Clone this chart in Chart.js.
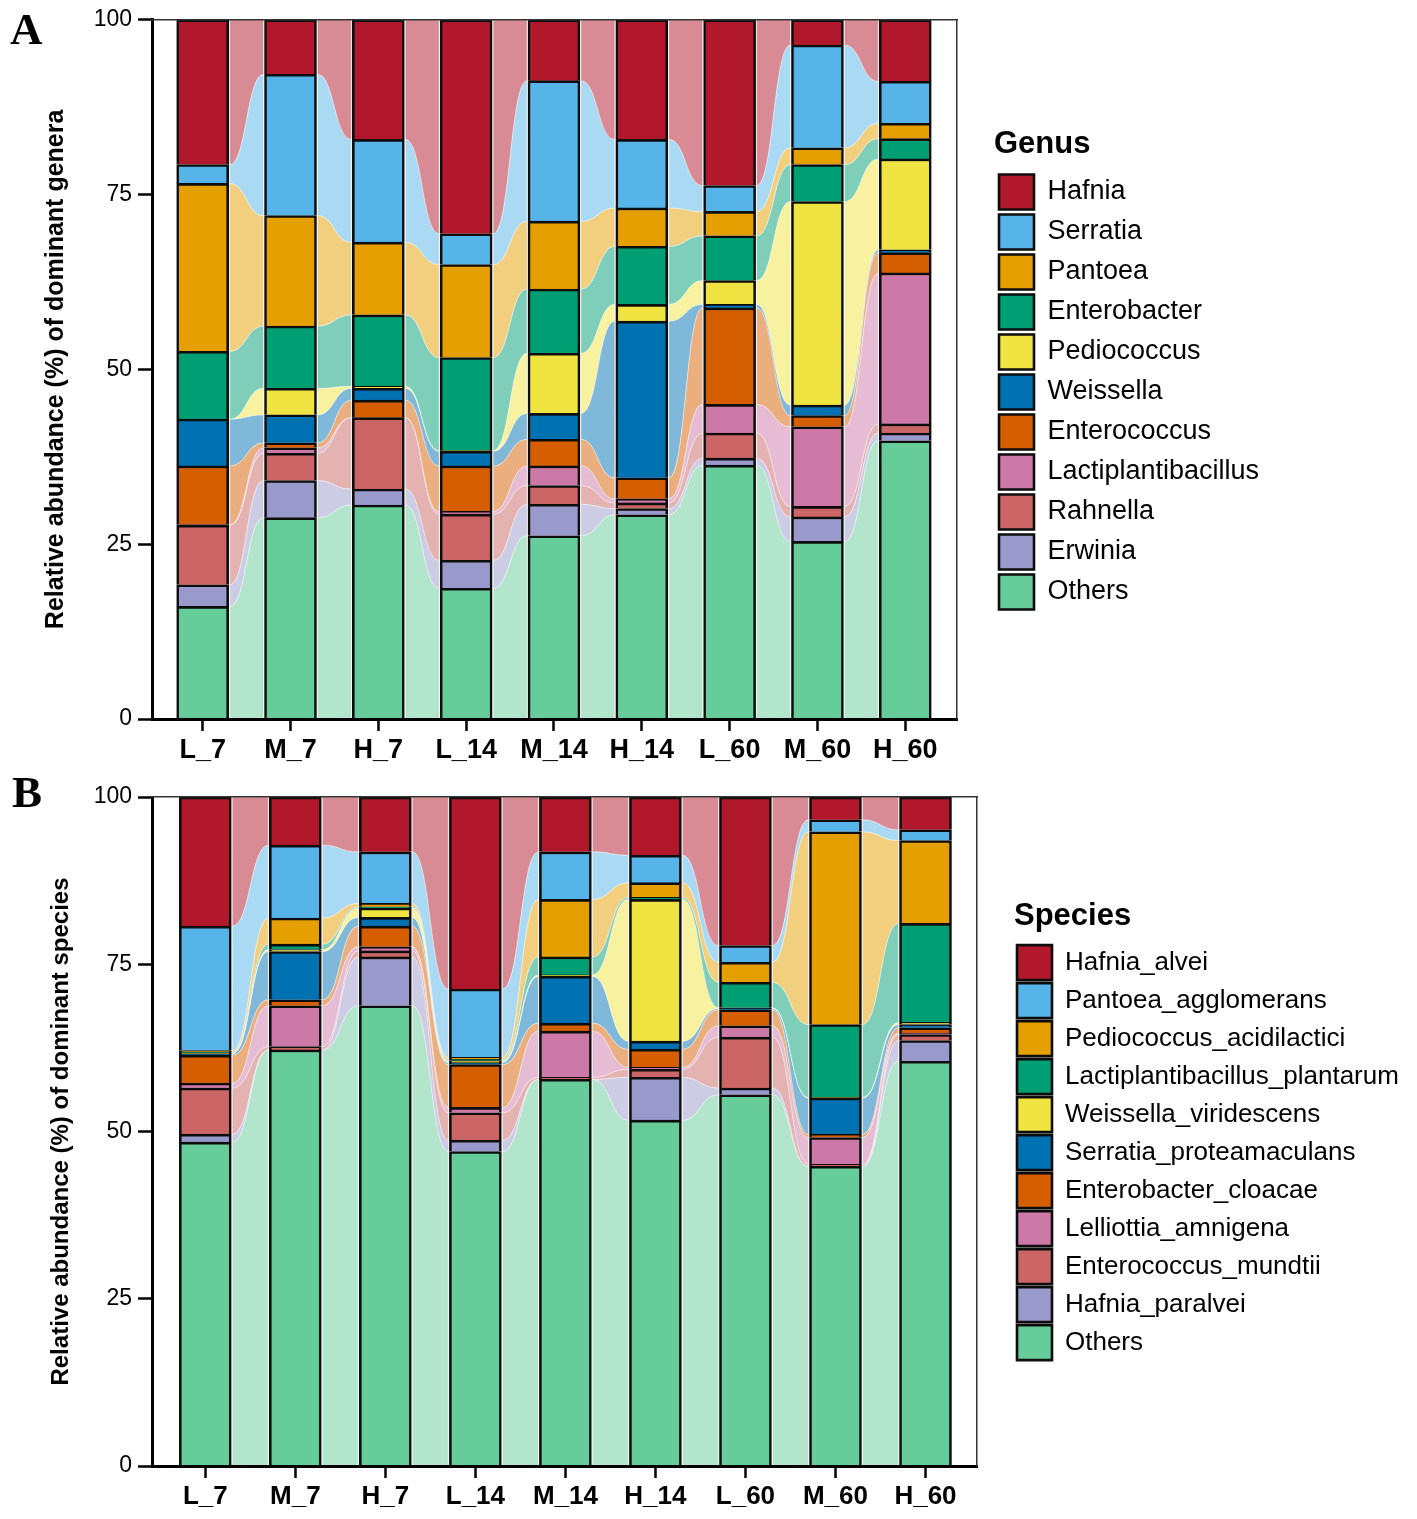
<!DOCTYPE html>
<html>
<head>
<meta charset="utf-8">
<script src="https://cdn.jsdelivr.net/npm/chart.js@4.4.1/dist/chart.umd.min.js"></script>
<style>
  html, body { margin: 0; padding: 0; background: #ffffff; }
  #wrap { position: relative; width: 1417px; height: 1519px; overflow: hidden; background: #fff; }
  canvas { position: absolute; left: 0; }
  .tag { position: absolute; font-family: 'Liberation Serif', 'Times New Roman', serif; font-weight: bold;
         font-size: 45px; line-height: 45px; color: #000; }
</style>
</head>
<body>
<div id="wrap">
  <canvas id="chartA" width="1417" height="770" style="top:0px"></canvas>
  <canvas id="chartB" width="1417" height="749" style="top:770px"></canvas>
  <div class="tag" style="left:10px;top:7px">A</div>
  <div class="tag" style="left:12px;top:770px">B</div>
</div>
<script>
// ---------------- data ----------------
const samples = ['L_7', 'M_7', 'H_7', 'L_14', 'M_14', 'H_14', 'L_60', 'M_60', 'H_60'];
const yTickValues = [0, 25, 50, 75, 100];

// Panel A – genus level (legend order, top of stack first)
const genusNames = ['Hafnia', 'Serratia', 'Pantoea', 'Enterobacter', 'Pediococcus', 'Weissella',
                    'Enterococcus', 'Lactiplantibacillus', 'Rahnella', 'Erwinia', 'Others'];
const genusHafnia              = [20.7, 7.8, 17.1, 30.6, 8.7, 17.1, 23.7, 3.6, 8.8];
const genusSerratia            = [2.7, 20.2, 14.7, 4.4, 20.1, 9.8, 3.7, 14.7, 6.0];
const genusPantoea             = [24.0, 15.8, 10.4, 13.3, 9.7, 5.5, 3.5, 2.4, 2.2];
const genusEnterobacter        = [9.7, 8.9, 10.2, 13.3, 9.2, 8.3, 6.4, 5.3, 2.9];
const genusPediococcus         = [0.0, 3.8, 0.3, 0.1, 8.6, 2.4, 3.4, 29.1, 13.0];
const genusWeissella           = [6.7, 4.0, 1.7, 2.1, 3.7, 22.4, 0.5, 1.5, 0.4];
const genusEnterococcus        = [8.4, 0.7, 2.5, 6.5, 3.8, 3.0, 13.8, 1.6, 2.9];
const genusLactiplantibacillus = [0.1, 0.8, 0.0, 0.4, 2.8, 0.6, 4.1, 11.4, 21.6];
const genusRahnella            = [8.5, 3.9, 10.2, 6.6, 2.7, 0.8, 3.6, 1.5, 1.3];
const genusErwinia             = [3.1, 5.3, 2.3, 4.0, 4.5, 0.9, 1.0, 3.5, 1.1];
const genusOthers              = [16.1, 28.8, 30.6, 18.7, 26.2, 29.2, 36.3, 25.4, 39.8];

// Panel B – species level (legend order, top of stack first)
const speciesNames = ['Hafnia_alvei', 'Pantoea_agglomerans', 'Pediococcus_acidilactici',
                      'Lactiplantibacillus_plantarum', 'Weissella_viridescens', 'Serratia_proteamaculans',
                      'Enterobacter_cloacae', 'Lelliottia_amnigena', 'Enterococcus_mundtii',
                      'Hafnia_paralvei', 'Others'];
const speciesHafniaAlvei        = [19.3, 7.2, 8.2, 28.7, 8.2, 8.7, 22.2, 3.4, 4.9];
const speciesPantoeaAgglomerans = [18.6, 10.9, 7.7, 10.2, 7.1, 4.1, 2.5, 1.8, 1.6];
const speciesPediococcusAcid    = [0.2, 3.9, 0.5, 0.3, 8.6, 2.2, 3.0, 28.8, 12.4];
const speciesLactiPlantarum     = [0.2, 0.8, 0.2, 0.2, 2.7, 0.3, 3.8, 10.9, 14.8];
const speciesWeissellaVirid     = [0.1, 0.3, 1.4, 0.3, 0.2, 21.2, 0.1, 0.1, 0.3];
const speciesSerratiaProtea     = [0.2, 7.2, 1.3, 0.3, 7.0, 1.2, 0.2, 5.4, 0.5];
const speciesEnterobacterCloac  = [4.2, 0.9, 3.1, 6.4, 1.2, 2.7, 2.4, 0.5, 0.8];
const speciesLelliottiaAmnig    = [0.7, 6.1, 0.6, 0.8, 6.9, 0.3, 1.7, 4.0, 0.2];
const speciesEnterococcusMund   = [6.9, 0.5, 0.9, 4.1, 0.3, 1.2, 7.6, 0.3, 0.9];
const speciesHafniaParalvei     = [1.2, 0.0, 7.3, 1.7, 0.0, 6.4, 1.0, 0.0, 3.1];
const speciesOthers             = [48.4, 62.2, 68.8, 47.0, 57.8, 51.7, 55.5, 44.8, 60.5];

// ---------------- styles ----------------
const palette = ['#B2182B', '#56B4E9', '#E69F00', '#009E73', '#F0E442', '#0072B2',
                 '#D55E00', '#CC79A7', '#CC6666', '#9999CC', '#66CC99'];
const FONT = "'Liberation Sans', Arial, Helvetica, sans-serif";
Chart.defaults.font.family = FONT;
Chart.defaults.color = '#000';

function withAlpha(hex, a) {
  const n = parseInt(hex.slice(1), 16);
  return 'rgba(' + ((n >> 16) & 255) + ',' + ((n >> 8) & 255) + ',' + (n & 255) + ',' + a + ')';
}

function makeDatasets(names, series) {
  const out = [];
  for (let k = names.length - 1; k >= 0; k--) {   // bottom of stack first
    out.push({
      label: names[k],
      data: series[k].map((v, i) => ({ x: i, y: v })),
      backgroundColor: palette[k],
      borderColor: '#0d0d0d',
      borderWidth: 2.6,
      borderSkipped: 'start',
      barThickness: 52,
      flowColor: withAlpha(palette[k], 0.5)
    });
  }
  return out;
}

// alluvial ribbons between neighbouring bars, positioned from the bar elements
const alluvium = {
  id: 'alluvium',
  beforeDatasetsDraw(chart) {
    const ctx = chart.ctx;
    const area = chart.chartArea;
    ctx.save();
    ctx.beginPath();
    ctx.rect(area.left, area.top, area.right - area.left, area.bottom - area.top);
    ctx.clip();
    chart.data.datasets.forEach((ds, d) => {
      const bars = chart.getDatasetMeta(d).data;
      for (let i = 0; i + 1 < bars.length; i++) {
        const a = bars[i], b = bars[i + 1];
        const x0 = a.x + a.width / 2 + 1;
        const x1 = b.x - b.width / 2 - 1;
        const xm = (x0 + x1) / 2;
        ctx.beginPath();
        ctx.moveTo(x0, a.y);
        ctx.bezierCurveTo(xm, a.y, xm, b.y, x1, b.y);
        ctx.lineTo(x1, b.base);
        ctx.bezierCurveTo(xm, b.base, xm, a.base, x0, a.base);
        ctx.closePath();
        ctx.fillStyle = ds.flowColor;
        ctx.fill();
        ctx.lineWidth = 0.8;
        ctx.strokeStyle = 'rgba(255,255,255,0.5)';
        ctx.stroke();
      }
    });
    ctx.restore();
  }
};

function buildPanel(p) {
  const cfg = {
    type: 'bar',
    data: { datasets: p.datasets },
    options: {
      responsive: false,
      animation: false,
      events: [],
      layout: { padding: { top: p.top, left: 0, right: p.padRight, bottom: 0 } },
      plugins: {
        tooltip: { enabled: false },
        legend: {
          display: true,
          position: 'right',
          align: 'center',
          fullSize: false,
          reverse: true,
          maxWidth: 600,
          title: {
            display: true, text: p.legendTitle, position: 'start', color: '#000',
            font: { family: FONT, size: 31, weight: 'bold' },
            padding: p.legendTitlePad
          },
          labels: {
            boxWidth: 35, boxHeight: 35, padding: p.legendGap, color: '#000',
            font: { family: FONT, size: p.legendFont }
          }
        }
      },
      scales: {
        x: {
          type: 'linear', position: 'bottom', stacked: true, offset: false,
          min: p.xMin, max: p.xMax,
          afterBuildTicks: s => { s.ticks = samples.map((c, i) => ({ value: i })); },
          afterFit: s => { s.height = p.xAxisHeight; },
          ticks: {
            autoSkip: false, maxRotation: 0, minRotation: 0, padding: 3, color: '#000',
            font: { family: FONT, size: p.xFont, weight: 'bold' },
            callback: (v, i) => samples[i]
          },
          grid: { display: true, offset: false, drawOnChartArea: false, drawTicks: true, tickLength: 12, tickWidth: 2.5, tickColor: '#000' },
          border: { display: true, width: 3, color: '#000', z: 1 }
        },
        y: {
          type: 'linear', position: 'left', stacked: true, min: 0, max: 100,
          afterBuildTicks: s => { s.ticks = yTickValues.map(v => ({ value: v })); },
          afterFit: s => { s.width = 152; },
          ticks: { padding: 6, color: '#000', font: { family: FONT, size: 23 } },
          grid: { display: true, drawOnChartArea: false, drawTicks: true, tickLength: 14, tickWidth: 2.5, tickColor: '#000' },
          border: { display: true, width: 3, color: '#000', z: 1 },
          title: {
            display: true, text: p.yTitle, color: '#000',
            font: { family: FONT, size: p.yTitleFont, weight: 'bold' },
            padding: { top: p.yTitlePad, bottom: 0 }
          }
        },
        x2: {
          type: 'linear', position: 'top', min: 0, max: 1, display: true, offset: false,
          afterFit: s => { s.height = 0; },
          ticks: { display: false }, grid: { display: false },
          border: { display: true, width: 1.5, color: '#333', z: 1 }
        },
        y2: {
          type: 'linear', position: 'right', min: 0, max: 1, display: true,
          afterFit: s => { s.width = 37; },
          ticks: { display: false }, grid: { display: false },
          border: { display: true, width: 1.5, color: '#333', z: 1 }
        }
      }
    },
    plugins: [alluvium]
  };
  const chart = new Chart(document.getElementById(p.canvas), cfg);
  for (let k = 0; k < 4; k++) {
    const dr = chart.chartArea.right - p.areaRight;
    if (Math.abs(dr) < 0.5) break;
    chart.options.layout.padding.right += dr;
    chart.update();
  }
  return chart;
}

buildPanel({
  canvas: 'chartA',
  datasets: makeDatasets(genusNames, [genusHafnia, genusSerratia, genusPantoea, genusEnterobacter,
    genusPediococcus, genusWeissella, genusEnterococcus, genusLactiplantibacillus, genusRahnella,
    genusErwinia, genusOthers]),
  top: 17, padRight: 100, areaRight: 957, xAxisHeight: 51,
  xMin: -0.577, xMax: 8.589, xFont: 27,
  legendTitle: 'Genus', legendTitlePad: { top: 5, bottom: 3 }, legendGap: 5, legendFont: 27,
  yTitle: 'Relative abundance (%) of dominant genera', yTitleFont: 25, yTitlePad: 41
});

buildPanel({
  canvas: 'chartB',
  datasets: makeDatasets(speciesNames, [speciesHafniaAlvei, speciesPantoeaAgglomerans,
    speciesPediococcusAcid, speciesLactiPlantarum, speciesWeissellaVirid, speciesSerratiaProtea,
    speciesEnterobacterCloac, speciesLelliottiaAmnig, speciesEnterococcusMund, speciesHafniaParalvei,
    speciesOthers]),
  top: 27, padRight: 5, areaRight: 977, xAxisHeight: 53,
  xMin: -0.592, xMax: 8.572, xFont: 26,
  legendTitle: 'Species', legendTitlePad: { top: 1, bottom: 4 }, legendGap: 3, legendFont: 26,
  yTitle: 'Relative abundance (%) of dominant species', yTitleFont: 24, yTitlePad: 47
});
</script>
</body>
</html>
